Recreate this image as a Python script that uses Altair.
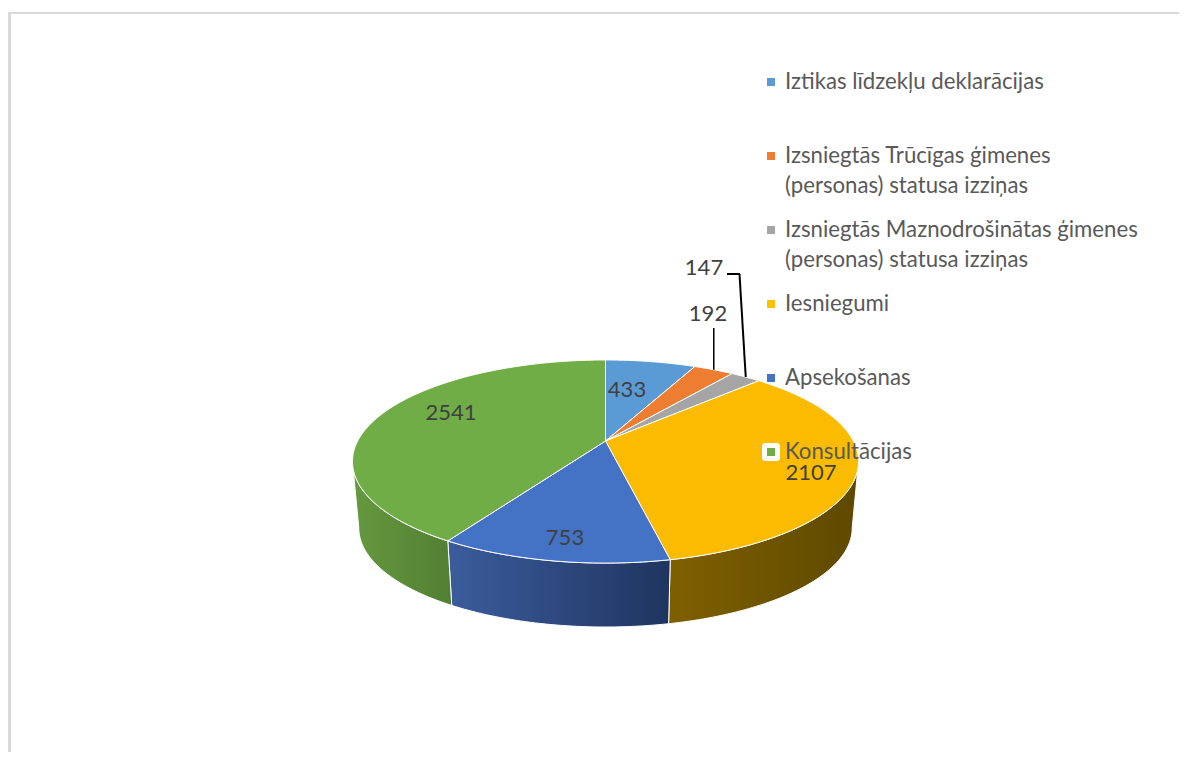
import math
import altair as alt
import pandas as pd

categories = ["Iztikas līdzekļu deklarācijas",
              "Izsniegtās Trūcīgas ģimenes\n(personas) statusa izziņas",
              "Izsniegtās Maznodrošinātas ģimenes\n(personas) statusa izziņas",
              "Iesniegumi", "Apsekošanas", "Konsultācijas"]
values = [433, 192, 147, 2107, 753, 2541]
colors = ["#5B9BD5", "#ED7D31", "#A5A5A5", "#FFC000", "#4472C4", "#70AD47"]
top_colors = ["#5B9BD5", "#ED7D31", "#A5A5A5", "#FABB00", "#4472C4", "#70AD47"]
wall_stops = {3: ("#7F6000", "#5E4900"), 4: ("#3B5C9C", "#1F3560"), 5: ("#65993F", "#527F33")}
label_pos = [(627, 390), (708, 314), (704, 268), (811, 473), (565, 538), (451, 413)]

M = 8
CX, AY = 605.5, 441.0
K, A, B = 0.202, 247.8, 97.4
S, BY = 0.975, 508.0
FONT = "Lato"


def rim(deg, scale=1.0, apex=AY):
    t = math.radians(deg)
    d = 1 + K * math.cos(t)
    return [CX + scale * A * math.sin(t) / d - M, apex - scale * B * math.cos(t) / d - M]


total = sum(values)
cum = [0.0]
for v in values:
    cum.append(cum[-1] + v / total * 360)

tops = []
for i, name in enumerate(categories):
    a0, a1 = cum[i], cum[i + 1]
    n = max(2, int(a1 - a0))
    arc = [rim(a0 + (a1 - a0) * j / n) for j in range(n + 1)]
    ring = [[CX - M, AY - M]] + arc + [[CX - M, AY - M]]
    tops.append({"type": "Feature", "properties": {"name": name},
                 "geometry": {"type": "Polygon", "coordinates": [ring]}})


def wall(i, lo=101.7, hi=258.3):
    a0, a1 = max(cum[i], lo), min(cum[i + 1], hi)
    n = max(2, int(a1 - a0))
    angs = [a0 + (a1 - a0) * j / n for j in range(n + 1)]
    ring = [rim(a) for a in angs] + [rim(a, S, BY) for a in reversed(angs)]
    ring.append(ring[0])
    return {"type": "Feature", "properties": {"name": categories[i]},
            "geometry": {"type": "Polygon", "coordinates": [ring]}}


PROJ = dict(type="identity", scale=1, translate=[0, 0])
layers = []
for i, (c0, c1) in wall_stops.items():
    grad = alt.LinearGradient(gradient="linear", x1=0, y1=0, x2=1, y2=0,
                              stops=[alt.GradientStop(color=c0, offset=0),
                                     alt.GradientStop(color=c1, offset=1)])
    layers.append(alt.Chart(alt.Data(values=[wall(i)])).mark_geoshape(
        fill=grad, stroke="#FFFFFF", strokeWidth=1).project(**PROJ))

layers.append(alt.Chart(alt.Data(values=tops)).mark_geoshape(stroke="#FFFFFF", strokeWidth=1).encode(
    fill=alt.Color("properties.name:N", legend=None,
                   scale=alt.Scale(domain=categories, range=top_colors))).project(**PROJ))

PX = alt.X("x:Q", scale=None, axis=None)
PY = alt.Y("y:Q", scale=None, axis=None)


def seg_chart(rows, color, w):
    return alt.Chart(pd.DataFrame(rows, columns=["x", "y", "x2", "y2"])).mark_rule(
        color=color, strokeWidth=w).encode(x=PX, y=PY, x2="x2:Q", y2="y2:Q")


# frame
layers.append(seg_chart([[1.5, 4, 1.5, 760]], "#D9D9D9", 3))
layers.append(seg_chart([[0, 5, 1187, 5]], "#D9D9D9", 2))

# leader lines to the small slices
m1 = rim((cum[1] + cum[2]) / 2)
m2 = rim((cum[2] + cum[3]) / 2)
layers.append(seg_chart([[m1[0], 328 - M, m1[0], m1[1]]], "#000000", 1.5))
layers.append(seg_chart([[727 - M, 274 - M, 740 - M, 274 - M],
                         [739.5 - M, 274 - M, m2[0], m2[1]]], "#000000", 2))

# value labels
val_df = pd.DataFrame({"x": [p[0] - M for p in label_pos], "y": [p[1] - M for p in label_pos],
                       "t": [str(v) for v in values]})
layers.append(alt.Chart(val_df).mark_text(font=FONT, fontSize=22, color="#404040",
                                          align="center", baseline="middle").encode(x=PX, y=PY, text="t:N"))

# hand-placed legend
leg_y = [82 + i * 74 - M for i in range(6)]
box = pd.DataFrame({"x": [762 - M], "x2": [780 - M], "y": [leg_y[5] - 9], "y2": [leg_y[5] + 9]})
layers.append(alt.Chart(box).mark_rect(fill="#FFFFFF", cornerRadius=3).encode(
    x=PX, y=PY, x2="x2:Q", y2="y2:Q"))
leg_df = pd.DataFrame({"x": [771 - M] * 6, "y": leg_y, "c": categories})
layers.append(alt.Chart(leg_df).mark_square(size=64, opacity=1).encode(
    x=PX, y=PY,
    fill=alt.Color("c:N", legend=None, scale=alt.Scale(domain=categories, range=colors)))
)
txt_df = pd.DataFrame({"x": [785 - M] * 6, "y": [y + 7 for y in leg_y], "c": categories})
layers.append(alt.Chart(txt_df).mark_text(font=FONT, fontSize=22.2, color="#595959", align="left",
                                          baseline="alphabetic", lineBreak="\n", lineHeight=30).encode(
    x=PX, y=PY, text="c:N"))

chart = alt.layer(*layers).resolve_scale(fill="independent").properties(
    width=1171, height=744, padding=0, autosize="none", background="#FFFFFF"
).configure_view(stroke=None)

chart.save("out.html", embed_options={"renderer": "svg", "actions": False})
